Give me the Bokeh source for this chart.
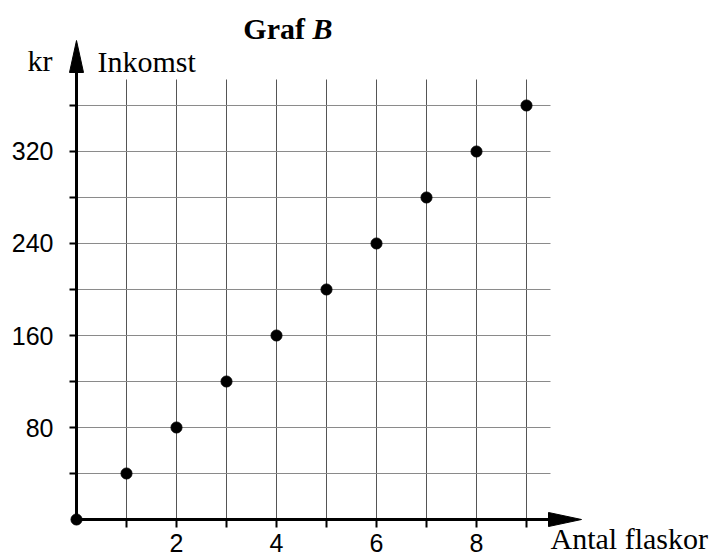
from bokeh.plotting import figure
from bokeh.models import Range1d, LinearAxis, FixedTicker
from bokeh.core.properties import value
from bokeh.embed import file_html
from bokeh.resources import INLINE

# ---- data ----
bottles = [0, 1, 2, 3, 4, 5, 6, 7, 8, 9]
income = [0, 40, 80, 120, 160, 200, 240, 280, 320, 360]
x_ticks = [1, 2, 3, 4, 5, 6, 7, 8, 9]
x_tick_labels = ["", "2", "", "4", "", "6", "", "8", ""]
y_ticks = [40, 80, 120, 160, 200, 240, 280, 320, 360]
y_tick_labels = ["", "80", "", "160", "", "240", "", "320", ""]

title_text = "Graf "
title_italic = "B"
y_unit = "kr"
y_name = "Inkomst"
x_name = "Antal flaskor"

# ---- layout constants ----
X_LO, X_HI = -1.52, 12.88
Y_LO, Y_HI = -33.04, 451.3
GRID_TOP = 382.6
GRID_RIGHT = 9.48
X_TIP = 10.1
Y_TIP = 416.5
X_HEAD_LEN, X_HEAD_HW = 0.66, 6.1
Y_HEAD_LEN, Y_HEAD_HW = 27.8, 0.14
TEXT_DY = -11

SERIF = "Liberation Serif"
SANS = "Liberation Sans"

p = figure(width=720, height=557, output_backend="svg", toolbar_location=None,
           x_range=Range1d(X_LO, X_HI), y_range=Range1d(Y_LO, Y_HI),
           x_axis_type=None, y_axis_type=None, min_border=0,
           outline_line_color=None)
p.grid.visible = False
p.background_fill_color = "white"
p.border_fill_color = "white"

# grid lines
p.segment(x0=x_ticks, y0=[0] * len(x_ticks), x1=x_ticks, y1=[GRID_TOP] * len(x_ticks),
          line_color="#555555", line_width=1)
p.segment(x0=[0] * len(y_ticks), y0=y_ticks, x1=[GRID_RIGHT] * len(y_ticks), y1=y_ticks,
          line_color="#8a8a8a", line_width=1)

# axes
xaxis = LinearAxis(fixed_location=0, ticker=FixedTicker(ticks=x_ticks, minor_ticks=[]),
                   major_label_overrides={t: l for t, l in zip(x_ticks, x_tick_labels)},
                   bounds=(0, X_TIP - X_HEAD_LEN / 2),
                   axis_line_width=3, axis_line_color="black",
                   major_tick_line_width=2, major_tick_line_color="black",
                   major_tick_out=8, major_tick_in=0,
                   minor_tick_line_color=None,
                   major_label_standoff=6,
                   major_label_text_font=SANS, major_label_text_font_size="25px",
                   major_label_text_color="black")
p.add_layout(xaxis, "below")

yaxis = LinearAxis(fixed_location=0, ticker=FixedTicker(ticks=y_ticks, minor_ticks=[]),
                   major_label_overrides={t: l for t, l in zip(y_ticks, y_tick_labels)},
                   bounds=(0, Y_TIP - Y_HEAD_LEN / 2),
                   axis_line_width=3, axis_line_color="black",
                   major_tick_line_width=2, major_tick_line_color="black",
                   major_tick_out=7, major_tick_in=0,
                   minor_tick_line_color=None,
                   major_label_standoff=16,
                   major_label_orientation="horizontal",
                   major_label_text_font=SANS, major_label_text_font_size="25px",
                   major_label_text_color="black")
p.add_layout(yaxis, "left")

# arrowheads
p.patch([X_TIP - X_HEAD_LEN, X_TIP, X_TIP - X_HEAD_LEN], [-X_HEAD_HW, 0, X_HEAD_HW],
        fill_color="black", line_color="black", line_width=1)
p.patch([-Y_HEAD_HW, 0, Y_HEAD_HW], [Y_TIP - Y_HEAD_LEN, Y_TIP, Y_TIP - Y_HEAD_LEN],
        fill_color="black", line_color="black", line_width=1)

# points
p.scatter(bottles, income, size=11, color="black")

# texts
common = dict(text_font=value(SERIF), text_baseline="alphabetic",
              text_color="black", y_offset=TEXT_DY)
p.text(x=[4.72], y=[417.4], text=[title_text], text_font_size="30px",
       text_font_style="bold", text_align="right", **common)
p.text(x=[4.72], y=[417.4], text=[title_italic], text_font_size="30px",
       text_font_style="bold italic", text_align="left", **common)
p.text(x=[-0.98], y=[389.6], text=[y_unit], text_font_size="30px",
       text_align="left", **common)
p.text(x=[0.42], y=[388.7], text=[y_name], text_font_size="30px",
       text_align="left", **common)
p.text(x=[9.48], y=[-26.1], text=[x_name], text_font_size="30px",
       text_align="left", **common)

open("out.html", "w").write(file_html(p, INLINE))
